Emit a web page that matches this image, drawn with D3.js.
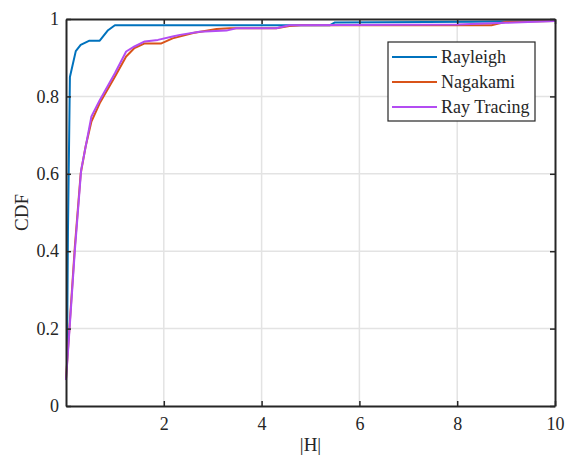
<!DOCTYPE html>
<html><head><meta charset="utf-8">
<script src="https://cdn.jsdelivr.net/npm/d3@7"></script>
<style>body{margin:0;background:#fff}text{font-family:"Liberation Serif","Times New Roman",serif;fill:#262626}</style>
</head><body>
<svg id="c" width="566" height="457"></svg>
<script>
const seriesNames = ["Rayleigh", "Nagakami", "Ray Tracing"];
const seriesColors = ["#0072BD", "#D95319", "#B34CF2"];
const rayleighX = [0.02,0.04,0.08,0.2,0.3,0.48,0.69,0.86,1.0,1.2,5.4,5.5,8.3,10];
const rayleighY = [0.1,0.45,0.85,0.917,0.933,0.944,0.944,0.971,0.984,0.984,0.984,0.991,0.993,0.995];
const nagakamiX = [0.0,0.08,0.18,0.3,0.4,0.52,0.7,1.0,1.23,1.4,1.61,1.95,2.18,2.6,3.08,3.35,4.3,4.57,4.8,8.7,9.0,10];
const nagakamiY = [0.07,0.22,0.41,0.6,0.67,0.735,0.785,0.851,0.903,0.925,0.937,0.937,0.95,0.964,0.974,0.976,0.976,0.982,0.984,0.984,0.993,0.995];
const rayTracingX = [0.0,0.076,0.18,0.31,0.35,0.52,0.69,1.0,1.23,1.4,1.61,1.88,2.18,2.33,2.73,3.28,3.48,4.3,4.57,8.0,9.0,10];
const rayTracingY = [0.067,0.205,0.40,0.61,0.636,0.748,0.79,0.86,0.916,0.929,0.942,0.946,0.955,0.959,0.967,0.97,0.976,0.976,0.984,0.986,0.99,0.995];
const xTicks = [2,4,6,8,10];
const yTicks = [0,0.2,0.4,0.6,0.8,1];
const yTickLabels = ["0","0.2","0.4","0.6","0.8","1"];

const L=66, R=555, T=19, B=406;
const x = d3.scaleLinear().domain([0,10]).range([L,R]);
const y = d3.scaleLinear().domain([0,1]).range([B,T]);
const svg = d3.select("#c");

// grid
svg.append("g").selectAll("line").data(xTicks.filter(v=>v<10)).join("line")
  .attr("x1",d=>x(d)).attr("x2",d=>x(d)).attr("y1",T).attr("y2",B)
  .attr("stroke","#e3e3e3").attr("stroke-width",1.5);
svg.append("g").selectAll("line").data(yTicks.filter(v=>v>0&&v<1)).join("line")
  .attr("y1",d=>y(d)).attr("y2",d=>y(d)).attr("x1",L).attr("x2",R)
  .attr("stroke","#e3e3e3").attr("stroke-width",1.5);

// curves
const data = [[rayleighX,rayleighY],[nagakamiX,nagakamiY],[rayTracingX,rayTracingY]];
const line = d3.line().x(d=>x(d[0])).y(d=>y(d[1]));
data.forEach((s,i)=>{
  const pts = s[0].map((v,j)=>[v,s[1][j]]);
  svg.append("path").datum(pts).attr("d",line).attr("fill","none")
    .attr("stroke",seriesColors[i]).attr("stroke-width",2).attr("stroke-linejoin","round");
});

// axes (MATLAB-like, inward ticks, box)
const ax = svg.append("g").attr("transform",`translate(0,${B})`)
  .call(d3.axisBottom(x).tickValues(xTicks).tickSizeInner(-5).tickSizeOuter(0).tickPadding(11));
const ay = svg.append("g").attr("transform",`translate(${L},0)`)
  .call(d3.axisLeft(y).tickValues(yTicks).tickFormat((d,i)=>yTickLabels[i]).tickSizeInner(-5).tickSizeOuter(0).tickPadding(7));
const at = svg.append("g").attr("transform",`translate(0,${T})`)
  .call(d3.axisTop(x).tickValues(xTicks).tickSizeInner(-5).tickSizeOuter(0).tickFormat(""));
const ar = svg.append("g").attr("transform",`translate(${R},0)`)
  .call(d3.axisRight(y).tickValues(yTicks).tickSizeInner(-5).tickSizeOuter(0).tickFormat(""));
[ax,ay,at,ar].forEach(g=>{
  g.select(".domain").attr("stroke","#262626").attr("stroke-width",2);
  g.selectAll(".tick line").attr("stroke","#262626").attr("stroke-width",1.5);
  g.selectAll(".tick text").style("font-family",'"Liberation Serif",serif').style("font-size","18px").attr("fill","#262626");
});

svg.append("text").attr("x",(L+R)/2).attr("y",451).attr("text-anchor","middle")
  .style("font-size","19px").text("|H|");
svg.append("text").attr("transform",`translate(28,${(T+B)/2}) rotate(-90)`).attr("text-anchor","middle")
  .style("font-size","19px").text("CDF");

// legend
const lg = svg.append("g");
lg.append("rect").attr("x",388).attr("y",42).attr("width",147).attr("height",79)
  .attr("fill","#fff").attr("stroke","#262626").attr("stroke-width",1.2);
seriesNames.forEach((n,i)=>{
  const yy = 57 + i*25;
  lg.append("line").attr("x1",392).attr("x2",437).attr("y1",yy).attr("y2",yy)
    .attr("stroke",seriesColors[i]).attr("stroke-width",2);
  lg.append("text").attr("x",441).attr("y",yy+6).style("font-size","18px").text(n);
});
</script>
</body></html>
